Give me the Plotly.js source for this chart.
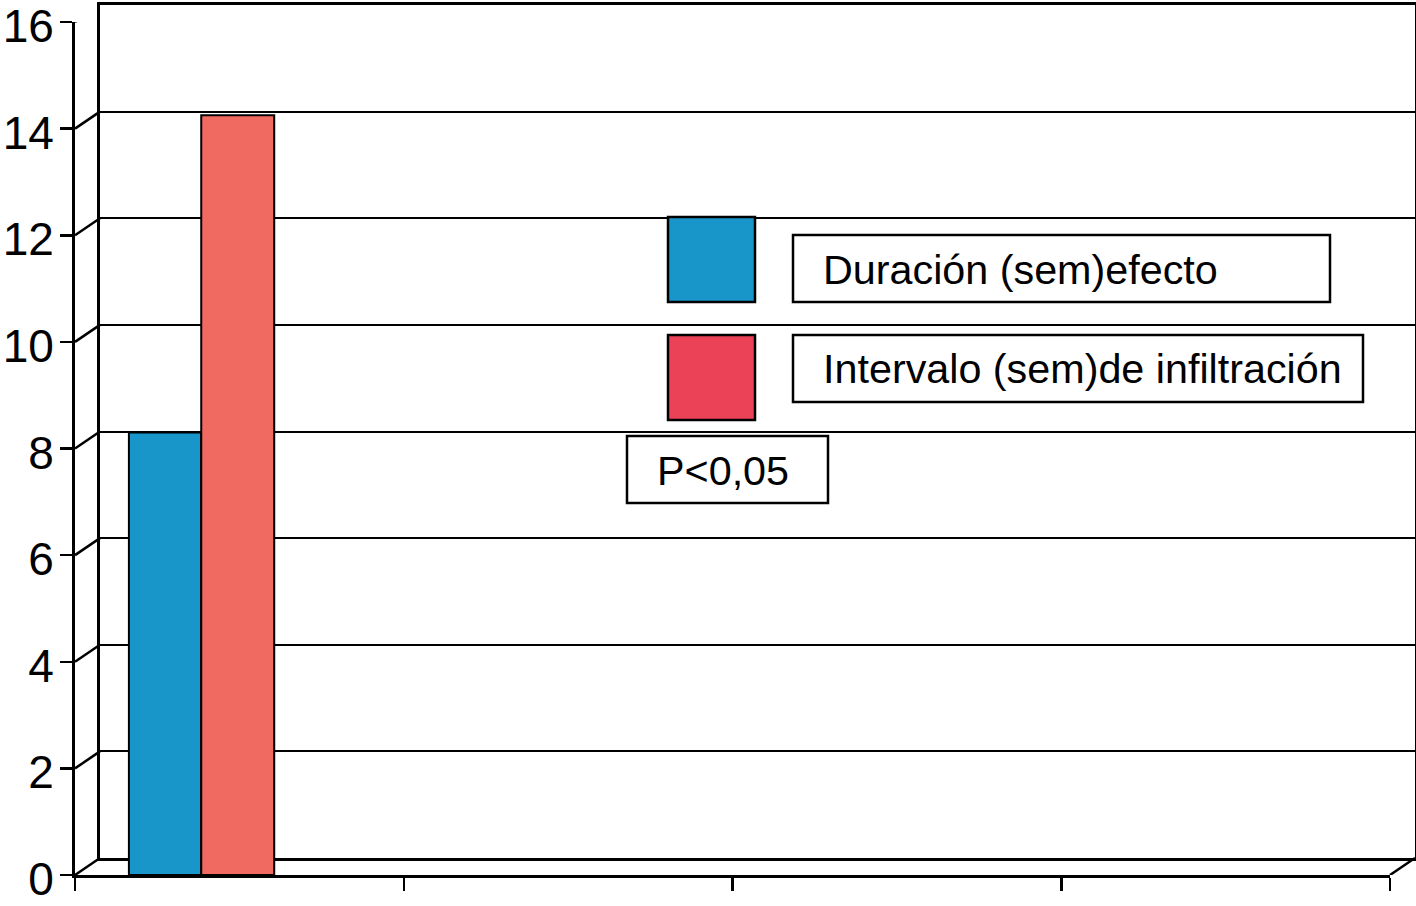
<!DOCTYPE html>
<html>
<head>
<meta charset="utf-8">
<script src="https://cdn.plot.ly/plotly-3.0.1.min.js"></script>
<style>html,body{margin:0;padding:0;background:#fff;}#chart{width:1416px;height:906px;}</style>
</head>
<body>
<div id="chart"></div>
<script>
// ---- data ----
const categories = ['G1', 'G2', 'G3', 'G4'];
const seriesNames = ['Duración (sem)efecto', 'Intervalo (sem)de infiltración'];
const duracion = [8.3];
const intervalo = [14.25];
const yTickVals = [0, 2, 4, 6, 8, 10, 12, 14, 16];
const yTickText = ['0', '2', '4', '6', '8', '10', '12', '14', '16'];
const note = 'P<0,05';

// ---- geometry helpers ----
const W = 1416, H = 906, L = 75, R = 1, T = 5, B = 31;
const PW = W - L - R, PH = H - T - B;
const DX = 25, DY = 17;
function px(x) { return (x - L) / PW; }
function py(y) { return (H - B - y) / PH; }

const blue = '#1896C9', red = '#F06A62', legRed = '#EC4257';
const font = 'Liberation Sans, Arial, Helvetica, sans-serif';

const traces = [
  {x: [], y: [], type: 'scatter', xaxis: 'x', yaxis: 'y', showlegend: false, hoverinfo: 'skip'},
  {x: [categories[0]], y: duracion, name: seriesNames[0], type: 'bar', xaxis: 'x2', yaxis: 'y2',
   marker: {color: blue, line: {color: '#000', width: 2}}, offset: -0.336, width: 0.22},
  {x: [categories[0]], y: intervalo, name: seriesNames[1], type: 'bar', xaxis: 'x2', yaxis: 'y2',
   marker: {color: red, line: {color: '#000', width: 2}}, offset: -0.116, width: 0.222}
];

const shapes = [];
yTickVals.forEach(v => {
  shapes.push({type: 'line', xref: 'paper', yref: 'y2', xsizemode: 'pixel', xanchor: 0, x0: 0, x1: DX,
    ysizemode: 'pixel', yanchor: v, y0: 0, y1: DY, line: {color: '#000', width: 2.5}});
});
shapes.push({type: 'line', xref: 'paper', yref: 'y2', xsizemode: 'pixel', xanchor: (PW - DX) / PW, x0: 0, x1: DX,
  ysizemode: 'pixel', yanchor: 0, y0: 0, y1: DY, line: {color: '#000', width: 2.5}});

function rect(x0, y0, x1, y1, fill) {
  shapes.push({type: 'rect', xref: 'paper', yref: 'paper', x0: px(x0), x1: px(x1), y0: py(y1), y1: py(y0),
    fillcolor: fill, line: {color: '#000', width: 2.5}, layer: 'above'});
}
rect(668, 217, 755, 302, blue);
rect(668, 335, 755, 420, legRed);
rect(793, 235, 1330, 302, '#fff');
rect(793, 335, 1363, 402, '#fff');
rect(627, 436, 828, 503, '#fff');

const annotations = [
  {text: seriesNames[0], xref: 'paper', yref: 'paper', x: px(821), y: py(270), xanchor: 'left', yanchor: 'middle',
   showarrow: false, font: {family: font, size: 41.3, color: '#000'}},
  {text: seriesNames[1], xref: 'paper', yref: 'paper', x: px(821), y: py(369), xanchor: 'left', yanchor: 'middle',
   showarrow: false, font: {family: font, size: 41.3, color: '#000'}},
  {text: note, xref: 'paper', yref: 'paper', x: px(655), y: py(471), xanchor: 'left', yanchor: 'middle',
   showarrow: false, font: {family: font, size: 41.3, color: '#000'}}
];

const layout = {
  width: W, height: H,
  margin: {l: L, r: R, t: T, b: B, pad: 0},
  paper_bgcolor: '#fff', plot_bgcolor: 'rgba(0,0,0,0)',
  showlegend: false,
  barmode: 'overlay',
  font: {family: font, color: '#000'},
  xaxis: {domain: [DX / PW, 1], range: [0, 1], anchor: 'y', showline: true, mirror: true, linewidth: 3,
    linecolor: '#000', showgrid: false, zeroline: false, showticklabels: false, ticks: '', fixedrange: true},
  yaxis: {domain: [DY / PH, 1], range: [0, 16], anchor: 'x', showline: true, mirror: true, linewidth: 3,
    linecolor: '#000', showgrid: true, gridcolor: '#000', gridwidth: 2, tickvals: yTickVals,
    zeroline: false, showticklabels: false, ticks: '', fixedrange: true},
  xaxis2: {domain: [0, (PW - DX) / PW], anchor: 'y2', type: 'category', categoryarray: categories,
    categoryorder: 'array', range: [-0.5, 3.5], tickson: 'boundaries', ticks: 'outside', ticklen: 13,
    tickwidth: 2.5, tickcolor: '#000', showline: true, linewidth: 3, linecolor: '#000',
    showticklabels: false, showgrid: false, zeroline: false, fixedrange: true},
  yaxis2: {domain: [0, (PH - DY) / PH], anchor: 'x2', range: [0, 16], tickvals: yTickVals, ticktext: yTickText,
    ticks: 'outside', ticklen: 12, tickwidth: 2.5, tickcolor: '#000', showline: true, linewidth: 3,
    linecolor: '#000', showgrid: false, zeroline: false, ticklabelstandoff: -3, ticklabelshift: 4,
    ticklabeloverflow: 'allow',
    tickfont: {family: font, size: 46, color: '#000'}, fixedrange: true},
  shapes: shapes,
  annotations: annotations
};

Plotly.newPlot('chart', traces, layout, {displayModeBar: false, staticPlot: true});
</script>
</body>
</html>
